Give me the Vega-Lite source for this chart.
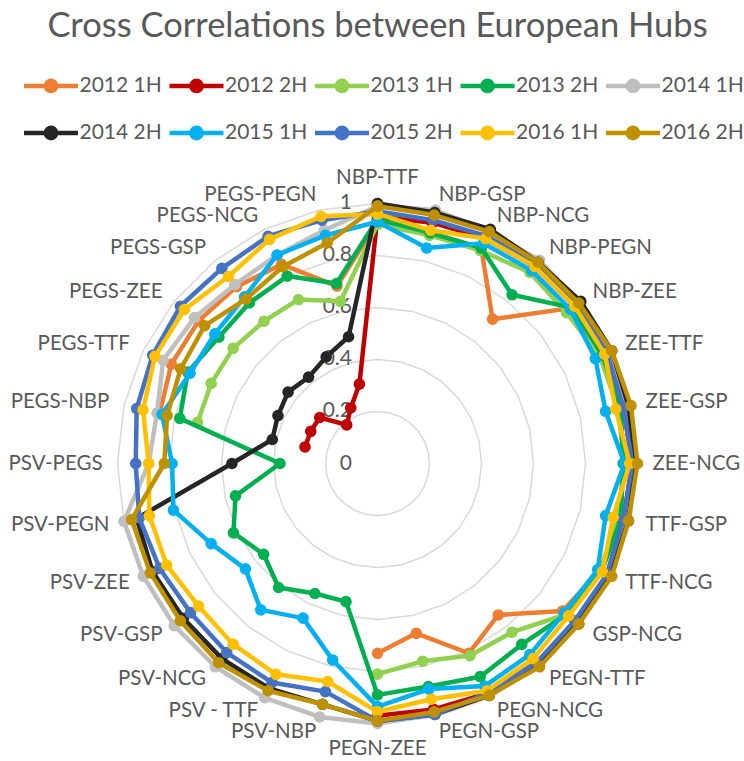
{
  "$schema": "https://vega.github.io/schema/vega-lite/v6.json",
  "width": 560,
  "height": 560,
  "autosize": {"type": "none"},
  "padding": {"left": 97.5, "top": 183.5, "right": 86.5, "bottom": 17.5},
  "background": "white",
  "config": {"view": {"stroke": null}, "font": "Lato"},
  "title": {"text": "Cross Correlations between European Hubs", "font": "Lato", "fontSize": 34.5, "fontWeight": "normal", "color": "#595959", "anchor": "middle", "frame": "group", "offset": 25},
  "datasets": {
    "corr": [
      {"c": "NBP-TTF", "2012 1H": 0.93, "2012 2H": 0.95, "2013 1H": 0.92, "2013 2H": 0.94, "2014 1H": 0.99, "2014 2H": 1.0, "2015 1H": 0.93, "2015 2H": 0.97, "2016 1H": 0.96, "2016 2H": 0.99},
      {"c": "NBP-GSP", "2012 1H": 0.91, "2012 2H": 0.95, "2013 1H": 0.9, "2013 2H": 0.91, "2014 1H": 1.0, "2014 2H": 0.99, "2015 1H": 0.85, "2015 2H": 0.96, "2016 1H": 0.92, "2016 2H": 0.98},
      {"c": "NBP-NCG", "2012 1H": 0.92, "2012 2H": 0.96, "2013 1H": 0.91, "2013 2H": 0.92, "2014 1H": 0.99, "2014 2H": 1.0, "2015 1H": 0.94, "2015 2H": 0.97, "2016 1H": 0.96, "2016 2H": 0.99},
      {"c": "NBP-PEGN", "2012 1H": 0.71, "2012 2H": 0.97, "2013 1H": 0.94, "2013 2H": 0.83, "2014 1H": 1.0, "2014 2H": 0.99, "2015 1H": 0.95, "2015 2H": 0.98, "2016 1H": 0.97, "2016 2H": 0.99},
      {"c": "NBP-ZEE", "2012 1H": 0.96, "2012 2H": 0.97, "2013 1H": 0.93, "2013 2H": 0.96, "2014 1H": 0.99, "2014 2H": 1.0, "2015 1H": 0.95, "2015 2H": 0.98, "2016 1H": 0.97, "2016 2H": 0.99},
      {"c": "ZEE-TTF", "2012 1H": 0.95, "2012 2H": 0.97, "2013 1H": 0.95, "2013 2H": 0.96, "2014 1H": 0.99, "2014 2H": 1.0, "2015 1H": 0.93, "2015 2H": 0.98, "2016 1H": 0.97, "2016 2H": 1.0},
      {"c": "ZEE-GSP", "2012 1H": 0.95, "2012 2H": 0.97, "2013 1H": 0.95, "2013 2H": 0.96, "2014 1H": 0.98, "2014 2H": 0.99, "2015 1H": 0.9, "2015 2H": 0.97, "2016 1H": 0.94, "2016 2H": 1.0},
      {"c": "ZEE-NCG", "2012 1H": 0.95, "2012 2H": 0.98, "2013 1H": 0.95, "2013 2H": 0.945, "2014 1H": 0.99, "2014 2H": 0.99, "2015 1H": 0.95, "2015 2H": 0.98, "2016 1H": 0.97, "2016 2H": 1.0},
      {"c": "TTF-GSP", "2012 1H": 0.95, "2012 2H": 0.97, "2013 1H": 0.95, "2013 2H": 0.96, "2014 1H": 0.98, "2014 2H": 0.99, "2015 1H": 0.9, "2015 2H": 0.97, "2016 1H": 0.93, "2016 2H": 0.99},
      {"c": "TTF-NCG", "2012 1H": 0.95, "2012 2H": 0.98, "2013 1H": 0.95, "2013 2H": 0.957, "2014 1H": 0.99, "2014 2H": 0.99, "2015 1H": 0.94, "2015 2H": 0.98, "2016 1H": 0.96, "2016 2H": 1.0},
      {"c": "GSP-NCG", "2012 1H": 0.91, "2012 2H": 0.99, "2013 1H": 0.93, "2013 2H": 0.93, "2014 1H": 0.98, "2014 2H": 0.98, "2015 1H": 0.92, "2015 2H": 0.97, "2016 1H": 0.94, "2016 2H": 0.99},
      {"c": "PEGN-TTF", "2012 1H": 0.745, "2012 2H": 0.98, "2013 1H": 0.83, "2013 2H": 0.89, "2014 1H": 0.99, "2014 2H": 0.99, "2015 1H": 0.94, "2015 2H": 0.98, "2016 1H": 0.96, "2016 2H": 1.0},
      {"c": "PEGN-NCG", "2012 1H": 0.81, "2012 2H": 0.98, "2013 1H": 0.82, "2013 2H": 0.91, "2014 1H": 0.99, "2014 2H": 0.99, "2015 1H": 0.95, "2015 2H": 0.98, "2016 1H": 0.97, "2016 2H": 0.99},
      {"c": "PEGN-GSP", "2012 1H": 0.67, "2012 2H": 0.97, "2013 1H": 0.78, "2013 2H": 0.88, "2014 1H": 0.99, "2014 2H": 0.99, "2015 1H": 0.89, "2015 2H": 0.99, "2016 1H": 0.93, "2016 2H": 0.98},
      {"c": "PEGN-ZEE", "2012 1H": 0.73, "2012 2H": 0.97, "2013 1H": 0.81, "2013 2H": 0.89, "2014 1H": 1.0, "2014 2H": 0.99, "2015 1H": 0.935, "2015 2H": 0.99, "2016 1H": 0.955, "2016 2H": 0.99},
      {"c": "PSV-NBP", "2012 1H": null, "2012 2H": null, "2013 1H": null, "2013 2H": 0.545, "2014 1H": 1.0, "2014 2H": 0.95, "2015 1H": 0.775, "2015 2H": 0.9, "2016 1H": 0.86, "2016 2H": 0.95},
      {"c": "PSV - TTF", "2012 1H": null, "2012 2H": null, "2013 1H": null, "2013 2H": 0.555, "2014 1H": 1.0, "2014 2H": 0.96, "2015 1H": 0.66, "2015 2H": 0.935, "2016 1H": 0.9, "2016 2H": 0.97},
      {"c": "PSV-NCG", "2012 1H": null, "2012 2H": null, "2013 1H": null, "2013 2H": 0.61, "2014 1H": 1.0, "2014 2H": 0.96, "2015 1H": 0.72, "2015 2H": 0.93, "2016 1H": 0.89, "2016 2H": 0.98},
      {"c": "PSV-GSP", "2012 1H": null, "2012 2H": null, "2013 1H": null, "2013 2H": 0.56, "2014 1H": 1.0, "2014 2H": 0.955, "2015 1H": 0.65, "2015 2H": 0.92, "2016 1H": 0.88, "2016 2H": 0.97},
      {"c": "PSV-ZEE", "2012 1H": null, "2012 2H": null, "2013 1H": null, "2013 2H": 0.615, "2014 1H": 1.0, "2014 2H": 0.96, "2015 1H": 0.71, "2015 2H": 0.93, "2016 1H": 0.9, "2016 2H": 0.97},
      {"c": "PSV-PEGN", "2012 1H": null, "2012 2H": null, "2013 1H": null, "2013 2H": 0.56, "2014 1H": 1.0, "2014 2H": 0.95, "2015 1H": 0.805, "2015 2H": 0.94, "2016 1H": 0.9, "2016 2H": 0.97},
      {"c": "PSV-PEGS", "2012 1H": null, "2012 2H": null, "2013 1H": null, "2013 2H": 0.375, "2014 1H": 0.88, "2014 2H": 0.56, "2015 1H": 0.79, "2015 2H": 0.93, "2016 1H": 0.88, "2016 2H": 0.82},
      {"c": "PEGS-NBP", "2012 1H": 0.86, "2012 2H": 0.286, "2013 1H": 0.71, "2013 2H": 0.78, "2014 1H": 0.87, "2014 2H": 0.415, "2015 1H": 0.85, "2015 2H": 0.95, "2016 1H": 0.925, "2016 2H": 0.83},
      {"c": "PEGS-TTF", "2012 1H": 0.88, "2012 2H": 0.285, "2013 1H": 0.71, "2013 2H": 0.81, "2014 1H": 0.915, "2014 2H": 0.425, "2015 1H": 0.8, "2015 2H": 0.96, "2016 1H": 0.95, "2016 2H": 0.84},
      {"c": "PEGS-ZEE", "2012 1H": 0.88, "2012 2H": 0.284, "2013 1H": 0.71, "2013 2H": 0.78, "2014 1H": 0.9, "2014 2H": 0.44, "2015 1H": 0.8, "2015 2H": 0.97, "2016 1H": 0.95, "2016 2H": 0.85},
      {"c": "PEGS-GSP", "2012 1H": 0.87, "2012 2H": 0.19, "2013 1H": 0.7, "2013 2H": 0.79, "2014 1H": 0.88, "2014 2H": 0.425, "2015 1H": 0.82, "2015 2H": 0.96, "2016 1H": 0.92, "2016 2H": 0.81},
      {"c": "PEGS-NCG", "2012 1H": 0.85, "2012 2H": 0.237, "2013 1H": 0.7, "2013 2H": 0.8, "2014 1H": 0.89, "2014 2H": 0.455, "2015 1H": 0.89, "2015 2H": 0.97, "2016 1H": 0.957, "2016 2H": 0.84},
      {"c": "PEGS-PEGN", "2012 1H": 0.7, "2012 2H": 0.313, "2013 1H": 0.64, "2013 2H": 0.71, "2014 1H": 0.92, "2014 2H": 0.5, "2015 1H": 0.9, "2015 2H": 0.96, "2016 1H": 0.975, "2016 2H": 0.87}
    ],
    "levels": [{"level": 0}, {"level": 0.2}, {"level": 0.4}, {"level": 0.6}, {"level": 0.8}, {"level": 1}]
  },
  "layer": [
    {
      "data": {"name": "corr"},
      "transform": [
        {"window": [{"op": "row_number", "as": "i"}]},
        {"calculate": "[0.2, 0.4, 0.6, 0.8, 1]", "as": "lvs"},
        {"flatten": ["lvs"], "as": ["lv"]},
        {"calculate": "(datum.i - 1) * 2 * PI / 28", "as": "th"},
        {"calculate": "datum.lv * sin(datum.th)", "as": "x"},
        {"calculate": "datum.lv * cos(datum.th)", "as": "y"}
      ],
      "mark": {"type": "line", "interpolate": "linear-closed", "color": "#D9D9D9", "strokeWidth": 1.5},
      "encoding": {
        "x": {"field": "x", "type": "quantitative", "scale": {"domain": [-1.07692, 1.07692], "nice": false, "zero": false}, "axis": null},
        "y": {"field": "y", "type": "quantitative", "scale": {"domain": [-1.07692, 1.07692], "nice": false, "zero": false}, "axis": null},
        "detail": {"field": "lv", "type": "nominal"},
        "order": {"field": "i", "type": "quantitative"}
      }
    },
    {
      "data": {"name": "levels"},
      "transform": [{"calculate": "0", "as": "x"}],
      "mark": {"type": "text", "align": "right", "baseline": "middle", "dx": -25.5, "fontSize": 21, "font": "Lato", "color": "#595959"},
      "encoding": {
        "x": {"field": "x", "type": "quantitative", "scale": {"domain": [-1.07692, 1.07692], "nice": false, "zero": false}, "axis": null},
        "y": {"field": "level", "type": "quantitative", "scale": {"domain": [-1.07692, 1.07692], "nice": false, "zero": false}, "axis": null},
        "text": {"field": "level", "type": "quantitative", "format": "~g"}
      }
    },
    {
      "data": {"name": "corr"},
      "transform": [
        {"window": [{"op": "row_number", "as": "i"}]},
        {"calculate": "(datum.i - 1) * 2 * PI / 28", "as": "th"},
        {"calculate": "1.0577 * sin(datum.th)", "as": "x"},
        {"calculate": "1.0577 * cos(datum.th)", "as": "y"}
      ],
      "encoding": {
        "x": {"field": "x", "type": "quantitative", "scale": {"domain": [-1.07692, 1.07692], "nice": false, "zero": false}, "axis": null},
        "y": {"field": "y", "type": "quantitative", "scale": {"domain": [-1.07692, 1.07692], "nice": false, "zero": false}, "axis": null},
        "text": {"field": "c", "type": "nominal"}
      },
      "layer": [
        {"transform": [{"filter": "datum.i >= 2 && datum.i <= 14"}], "mark": {"type": "text", "align": "left", "baseline": "middle", "fontSize": 20.5, "font": "Lato", "color": "#595959"}},
        {"transform": [{"filter": "datum.i >= 16"}], "mark": {"type": "text", "align": "right", "baseline": "middle", "fontSize": 20.5, "font": "Lato", "color": "#595959"}},
        {"transform": [{"filter": "datum.i == 1"}], "mark": {"type": "text", "align": "center", "baseline": "bottom", "fontSize": 20.5, "font": "Lato", "color": "#595959"}},
        {"transform": [{"filter": "datum.i == 15"}], "mark": {"type": "text", "align": "center", "baseline": "top", "fontSize": 20.5, "font": "Lato", "color": "#595959"}}
      ]
    },
    {
      "data": {"name": "corr"},
      "transform": [
        {"window": [{"op": "row_number", "as": "i"}]},
        {"calculate": "datum.i == 1 ? [1, 29] : [datum.i]", "as": "ks"},
        {"flatten": ["ks"], "as": ["k"]},
        {"fold": ["2012 1H", "2012 2H", "2013 1H", "2013 2H", "2014 1H", "2014 2H", "2015 1H", "2015 2H", "2016 1H", "2016 2H"], "as": ["s", "v"]},
        {"calculate": "(datum.k - 1) * 2 * PI / 28", "as": "th"},
        {"calculate": "datum.v == null ? null : datum.v * sin(datum.th)", "as": "x"},
        {"calculate": "datum.v == null ? null : datum.v * cos(datum.th)", "as": "y"}
      ],
      "encoding": {
        "x": {"field": "x", "type": "quantitative", "scale": {"domain": [-1.07692, 1.07692], "nice": false, "zero": false}, "axis": null},
        "y": {"field": "y", "type": "quantitative", "scale": {"domain": [-1.07692, 1.07692], "nice": false, "zero": false}, "axis": null},
        "order": {"field": "k", "type": "quantitative"},
        "color": {
          "field": "s", "type": "nominal",
          "scale": {
            "domain": ["2012 1H", "2012 2H", "2013 1H", "2013 2H", "2014 1H", "2014 2H", "2015 1H", "2015 2H", "2016 1H", "2016 2H"],
            "range": ["#ED7D31", "#C00000", "#92D050", "#00B050", "#BFBFBF", "#262626", "#00B0F0", "#4472C4", "#FFC000", "#BF9000"]
          },
          "legend": {
            "title": null, "orient": "none", "legendX": -62.5, "legendY": -114, "columns": 5, "direction": "horizontal",
            "symbolType": "M-2,0L2,0M0.38,0A0.38,0.38,0,1,1,-0.38,0A0.38,0.38,0,1,1,0.38,0Z",
            "symbolSize": 729, "symbolStrokeWidth": 4.5, "symbolOpacity": 1,
            "labelFont": "Lato", "labelFontSize": 21, "labelColor": "#595959", "labelOffset": 12.5, "labelLimit": 200,
            "columnPadding": -1.5, "rowPadding": 16.5, "padding": 0,
            "encode": {"symbols": {"update": {"fill": {"scale": "color", "field": "value"}, "stroke": {"scale": "color", "field": "value"}, "strokeWidth": {"value": 4.5}, "opacity": {"value": 1}}}}
          }
        }
      },
      "layer": [
        {"transform": [{"filter": {"field": "s", "equal": "2012 1H"}}], "layer": [{"mark": {"type": "line", "strokeWidth": 4.5, "strokeJoin": "round"}}, {"mark": {"type": "point", "filled": true, "size": 135, "opacity": 1}}]},
        {"transform": [{"filter": {"field": "s", "equal": "2012 2H"}}], "layer": [{"mark": {"type": "line", "strokeWidth": 4.5, "strokeJoin": "round"}}, {"mark": {"type": "point", "filled": true, "size": 135, "opacity": 1}}]},
        {"transform": [{"filter": {"field": "s", "equal": "2013 1H"}}], "layer": [{"mark": {"type": "line", "strokeWidth": 4.5, "strokeJoin": "round"}}, {"mark": {"type": "point", "filled": true, "size": 135, "opacity": 1}}]},
        {"transform": [{"filter": {"field": "s", "equal": "2013 2H"}}], "layer": [{"mark": {"type": "line", "strokeWidth": 4.5, "strokeJoin": "round"}}, {"mark": {"type": "point", "filled": true, "size": 135, "opacity": 1}}]},
        {"transform": [{"filter": {"field": "s", "equal": "2014 1H"}}], "layer": [{"mark": {"type": "line", "strokeWidth": 4.5, "strokeJoin": "round"}}, {"mark": {"type": "point", "filled": true, "size": 135, "opacity": 1}}]},
        {"transform": [{"filter": {"field": "s", "equal": "2014 2H"}}], "layer": [{"mark": {"type": "line", "strokeWidth": 4.5, "strokeJoin": "round"}}, {"mark": {"type": "point", "filled": true, "size": 135, "opacity": 1}}]},
        {"transform": [{"filter": {"field": "s", "equal": "2015 1H"}}], "layer": [{"mark": {"type": "line", "strokeWidth": 4.5, "strokeJoin": "round"}}, {"mark": {"type": "point", "filled": true, "size": 135, "opacity": 1}}]},
        {"transform": [{"filter": {"field": "s", "equal": "2015 2H"}}], "layer": [{"mark": {"type": "line", "strokeWidth": 4.5, "strokeJoin": "round"}}, {"mark": {"type": "point", "filled": true, "size": 135, "opacity": 1}}]},
        {"transform": [{"filter": {"field": "s", "equal": "2016 1H"}}], "layer": [{"mark": {"type": "line", "strokeWidth": 4.5, "strokeJoin": "round"}}, {"mark": {"type": "point", "filled": true, "size": 135, "opacity": 1}}]},
        {"transform": [{"filter": {"field": "s", "equal": "2016 2H"}}], "layer": [{"mark": {"type": "line", "strokeWidth": 4.5, "strokeJoin": "round"}}, {"mark": {"type": "point", "filled": true, "size": 135, "opacity": 1}}]}
      ]
    }
  ]
}
